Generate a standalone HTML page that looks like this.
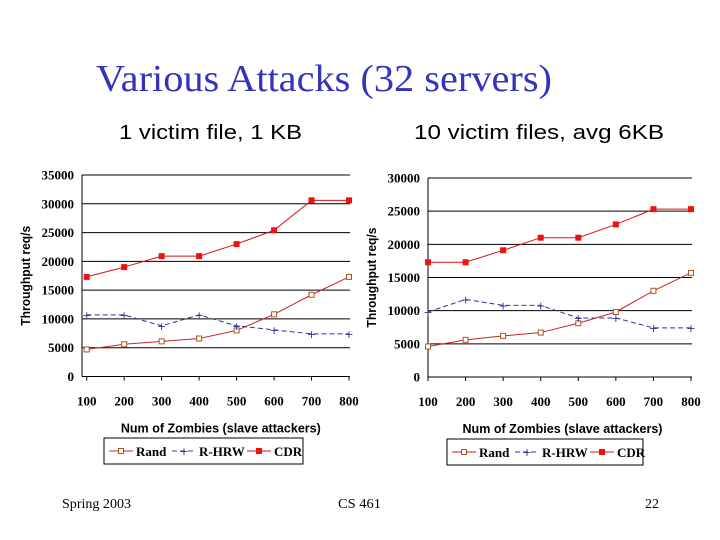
<!DOCTYPE html>
<html><head><meta charset="utf-8"><style>
html,body{margin:0;padding:0;background:#fff;}
svg{display:block;}
</style></head><body>
<svg id="s" width="720" height="540" xmlns="http://www.w3.org/2000/svg">
<text x="96" y="91" font-family="Liberation Serif, serif" font-size="38" fill="#3333bb" textLength="456" lengthAdjust="spacingAndGlyphs">Various Attacks (32 servers)</text>
<text x="119" y="139" font-family="Liberation Sans, sans-serif" font-size="20" fill="#000" textLength="183" lengthAdjust="spacingAndGlyphs">1 victim file, 1 KB</text>
<text x="414" y="139" font-family="Liberation Sans, sans-serif" font-size="20" fill="#000" textLength="250" lengthAdjust="spacingAndGlyphs">10 victim files, avg 6KB</text>
<text x="62" y="508" font-family="Liberation Serif, serif" font-size="14" textLength="69" lengthAdjust="spacingAndGlyphs">Spring 2003</text>
<text x="338" y="508" font-family="Liberation Serif, serif" font-size="14" textLength="43" lengthAdjust="spacingAndGlyphs">CS 461</text>
<text x="645" y="508" font-family="Liberation Serif, serif" font-size="14">22</text>
<g id="c"></g>
</svg>
<script>
var g=document.getElementById('c'),h='';
function chart(ax,x0,x1,y0,ytop,ymax,rand,hrw,cdr,lx,ly,lw){
  var n=ymax/5000,i;
  for(i=0;i<=n;i++){var y=y0-(y0-ytop)*i/n;
    h+='<line x1="'+ax+'" x2="'+(x1+1)+'" y1="'+y+'" y2="'+y+'" stroke="#000" stroke-width="1"/>';
    h+='<text x="'+(ax-8)+'" y="'+(y+4.5)+'" text-anchor="end" font-family="Liberation Serif,serif" font-weight="bold" font-size="13">'+(i*5000)+'</text>';}
  h+='<line x1="'+ax+'" x2="'+ax+'" y1="'+ytop+'" y2="'+y0+'" stroke="#000"/>';
  for(i=0;i<8;i++){var x=x0+(x1-x0)*i/7;
    h+='<line x1="'+x+'" x2="'+x+'" y1="'+y0+'" y2="'+(y0+4)+'" stroke="#000"/>';
    h+='<text x="'+x+'" y="'+(y0+29)+'" text-anchor="middle" font-family="Liberation Serif,serif" font-weight="bold" font-size="13">'+((i+1)*100)+'</text>';}
  function P(d){return d.map(function(v,i){return [x0+(x1-x0)*i/7,y0-(y0-ytop)*v/ymax];});}
  function line(d,col,dash){h+='<polyline fill="none" stroke="'+col+'" stroke-width="1"'+(dash?' stroke-dasharray="5,3"':'')+' points="'+P(d).map(function(p){return p.join(',')}).join(' ')+'"/>';}
  line(rand,'#cc2222');line(hrw,'#333399',1);line(cdr,'#dd1111');
  P(rand).forEach(function(p){h+='<rect x="'+(p[0]-2.5)+'" y="'+(p[1]-2.5)+'" width="5" height="5" fill="#fff" stroke="#aa5522"/>';});
  P(hrw).forEach(function(p){h+='<text x="'+p[0]+'" y="'+(p[1]+4)+'" text-anchor="middle" font-size="11" fill="#333399" font-family="DejaVu Sans">+</text>';});
  P(cdr).forEach(function(p){h+='<rect x="'+(p[0]-3)+'" y="'+(p[1]-3)+'" width="6" height="6" fill="#ee1111"/>';});
  var mid=(x0+x1)/2;
  h+='<text x="'+(mid+3)+'" y="'+(y0+56)+'" text-anchor="middle" font-family="Liberation Sans,sans-serif" font-weight="bold" font-size="13" textLength="200" lengthAdjust="spacingAndGlyphs">Num of Zombies (slave attackers)</text>';
  var yc=(y0+ytop)/2,tx=ax-52;
  h+='<text transform="translate('+tx+','+yc+') rotate(-90)" text-anchor="middle" font-family="Liberation Sans,sans-serif" font-weight="bold" font-size="13" textLength="100" lengthAdjust="spacingAndGlyphs">Throughput req/s</text>';
  h+='<rect x="'+lx+'" y="'+ly+'" width="'+lw+'" height="26" fill="#fff" stroke="#000"/>';
  var cy=ly+13;
  h+='<line x1="'+(lx+5)+'" x2="'+(lx+29)+'" y1="'+cy+'" y2="'+cy+'" stroke="#cc2222"/><rect x="'+(lx+14.5)+'" y="'+(cy-2.5)+'" width="5" height="5" fill="#fff" stroke="#aa5522"/>';
  h+='<text x="'+(lx+32)+'" y="'+(cy+5)+'" font-family="Liberation Serif,serif" font-weight="bold" font-size="13">Rand</text>';
  h+='<line x1="'+(lx+68)+'" x2="'+(lx+92)+'" y1="'+cy+'" y2="'+cy+'" stroke="#333399" stroke-dasharray="5,3"/><text x="'+(lx+80)+'" y="'+(cy+4)+'" text-anchor="middle" font-size="11" fill="#333399" font-family="DejaVu Sans">+</text>';
  h+='<text x="'+(lx+95)+'" y="'+(cy+5)+'" font-family="Liberation Serif,serif" font-weight="bold" font-size="13">R-HRW</text>';
  h+='<line x1="'+(lx+143)+'" x2="'+(lx+167)+'" y1="'+cy+'" y2="'+cy+'" stroke="#dd1111"/><rect x="'+(lx+152)+'" y="'+(cy-3)+'" width="6" height="6" fill="#ee1111"/>';
  h+='<text x="'+(lx+170)+'" y="'+(cy+5)+'" font-family="Liberation Serif,serif" font-weight="bold" font-size="13">CDR</text>';
}
chart(82,86.7,349,376.5,175,35000,
 [4700,5600,6100,6600,8000,10800,14200,17300],
 [10700,10700,8800,10700,8800,8100,7400,7400],
 [17300,19000,20900,20900,23000,25400,30600,30600],104,438,199);
chart(428,428,691,377,178,30000,
 [4600,5600,6200,6700,8100,9800,13000,15700],
 [9800,11700,10800,10800,8900,8900,7400,7400],
 [17300,17300,19100,21000,21000,23000,25300,25300],447,439,196);
g.innerHTML=h;
</script>
</body></html>
